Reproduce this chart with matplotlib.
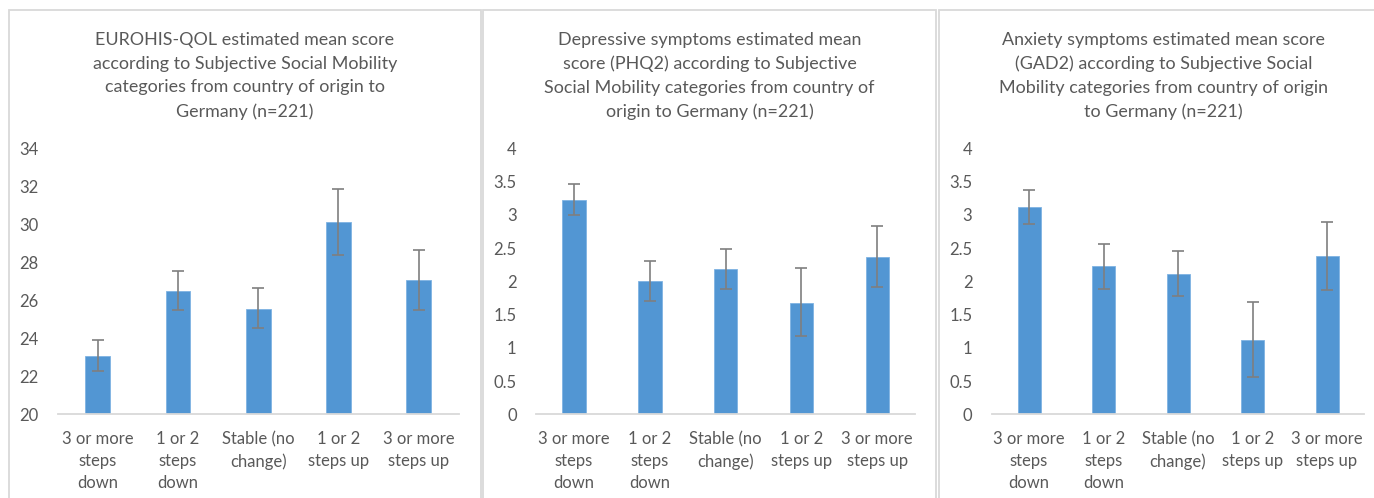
import matplotlib
matplotlib.use("Agg")
import matplotlib.pyplot as plt
from matplotlib.patches import Rectangle

# ── data ──────────────────────────────────────────────────────────────────────
CATEGORIES = ["3 or more\nsteps\ndown", "1 or 2\nsteps\ndown", "Stable (no\nchange)",
              "1 or 2\nsteps up", "3 or more\nsteps up"]

TITLES = [
    "EUROHIS-QOL estimated mean score\naccording to Subjective Social Mobility\n"
    "categories from country of origin to\nGermany (n=221)",
    "Depressive symptoms estimated mean\nscore (PHQ2) according to Subjective\n"
    "Social Mobility categories from country of\norigin to Germany (n=221)",
    "Anxiety symptoms estimated mean score\n(GAD2) according to Subjective Social\n"
    "Mobility categories from country of origin\nto Germany (n=221)",
]

qol_mean  = [23.07, 26.51, 25.56, 30.12, 27.05]
qol_low   = [22.30, 25.47, 24.54, 28.37, 25.47]
qol_high  = [23.90, 27.56, 26.63, 31.88, 28.67]

phq_mean  = [3.23, 2.01, 2.18, 1.68, 2.37]
phq_low   = [3.00, 1.70, 1.88, 1.17, 1.91]
phq_high  = [3.46, 2.31, 2.49, 2.20, 2.83]

gad_mean  = [3.11, 2.23, 2.11, 1.12, 2.38]
gad_low   = [2.86, 1.89, 1.78, 0.56, 1.87]
gad_high  = [3.38, 2.56, 2.45, 1.69, 2.89]

QOL_TICKS = [20, 22, 24, 26, 28, 30, 32, 34]
SYM_TICKS = [0, 0.5, 1, 1.5, 2, 2.5, 3, 3.5, 4]
SYM_LABELS = ["0", "0.5", "1", "1.5", "2", "2.5", "3", "3.5", "4"]

# ── style ─────────────────────────────────────────────────────────────────────
W, H = 1374, 498
BAR_COLOR = "#5296d3"
ERR_COLOR = "#7f7f7f"
TEXT_COLOR = "#595959"
BORDER = "#d9d9d9"
FONT = ["Lato", "DejaVu Sans"]

plt.rcParams["font.family"] = FONT

# panel borders (px): left, right ; top fixed at 10
PANELS = [(9, 481), (483, 936), (939, 1388)]
# axes x-range (px)
AXES_X = [(57.6, 458.8), (536.1, 915.2), (991.8, 1364.3)]
AX_TOP, AX_BOT = 148.3, 414.3

fig = plt.figure(figsize=(W / 100, H / 100), dpi=100)
fig.patch.set_facecolor("white")

for (l, r) in PANELS:
    fig.patches.append(Rectangle((l / W, -0.1), (r - l) / W, (H - 10) / H + 0.1,
                                 transform=fig.transFigure, fill=False,
                                 edgecolor=BORDER, linewidth=1.3))

series = [
    (qol_mean, qol_low, qol_high, QOL_TICKS, [str(t) for t in QOL_TICKS]),
    (phq_mean, phq_low, phq_high, SYM_TICKS, SYM_LABELS),
    (gad_mean, gad_low, gad_high, SYM_TICKS, SYM_LABELS),
]

for i, (mean, low, high, ticks, tlabels) in enumerate(series):
    x0, x1 = AXES_X[i]
    ax = fig.add_axes([x0 / W, 1 - AX_BOT / H, (x1 - x0) / W, (AX_BOT - AX_TOP) / H])
    xs = range(len(CATEGORIES))
    yerr = [[m - lo for m, lo in zip(mean, low)], [hi - m for m, hi in zip(mean, high)]]
    base = ticks[0]
    ax.bar(xs, [m - base for m in mean], bottom=base, width=0.31, color=BAR_COLOR,
           edgecolor="#7fb3e3", linewidth=0.6, zorder=2)
    ax.errorbar(xs, mean, yerr=yerr, fmt="none", ecolor=ERR_COLOR, elinewidth=1.2,
                capsize=4, capthick=1.2, zorder=3)
    ax.set_xlim(-0.5, len(CATEGORIES) - 0.5)
    ax.set_ylim(ticks[0], ticks[-1])
    ax.set_yticks(ticks)
    ax.set_yticklabels(tlabels, fontsize=12)
    ax.set_xticks(list(xs))
    ax.set_xticklabels(CATEGORIES, linespacing=1.45, fontsize=12)
    ax.tick_params(axis="both", length=0, colors=TEXT_COLOR)
    ax.tick_params(axis="y", pad=14)
    ax.tick_params(axis="x", pad=12)
    for s in ["top", "right", "left"]:
        ax.spines[s].set_visible(False)
    ax.spines["bottom"].set_color(BORDER)
    ax.spines["bottom"].set_linewidth(1.3)
    ax.set_facecolor("none")

    pl, pr = PANELS[i]
    fig.text((pl + pr) / 2 / W, 1 - 76 / H, TITLES[i], ha="center", va="center",
             fontsize=12.9, color=TEXT_COLOR, linespacing=1.58)

plt.savefig("out.png", dpi=100)
